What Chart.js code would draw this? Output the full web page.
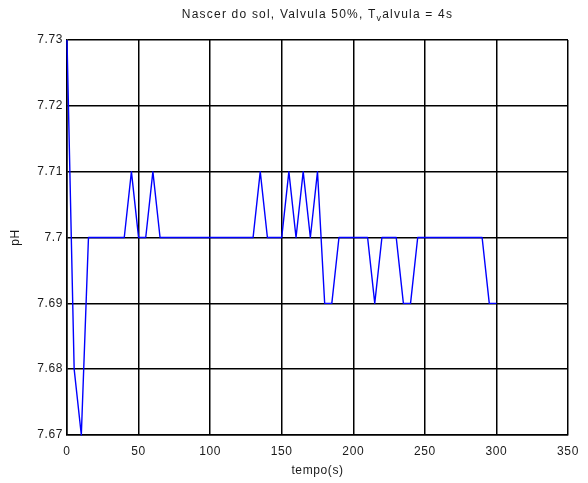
<!DOCTYPE html>
<html>
<head>
<meta charset="utf-8">
<script src="https://cdn.jsdelivr.net/npm/chart.js@4.4.1/dist/chart.umd.min.js"></script>
<style>
  html, body { margin: 0; padding: 0; background: #fff; }
  #wrap { width: 588px; height: 483px; position: relative; }
</style>
</head>
<body>
<div id="wrap"><canvas id="c" width="588" height="483"></canvas></div>
<script>
// ---- data ----
const tempo = [0,5,10,15,20,25,30,35,40,45,50,55,60,65,70,75,80,85,90,95,100,105,110,115,120,125,130,135,140,145,150,155,160,165,170,175,180,185,190,195,200,205,210,215,220,225,230,235,240,245,250,255,260,265,270,275,280,285,290,295,300];
const ph = [7.73,7.68,7.67,7.70,7.70,7.70,7.70,7.70,7.70,7.71,7.70,7.70,7.71,7.70,7.70,7.70,7.70,7.70,7.70,7.70,7.70,7.70,7.70,7.70,7.70,7.70,7.70,7.71,7.70,7.70,7.70,7.71,7.70,7.71,7.70,7.71,7.69,7.69,7.70,7.70,7.70,7.70,7.70,7.69,7.70,7.70,7.70,7.69,7.69,7.70,7.70,7.70,7.70,7.70,7.70,7.70,7.70,7.70,7.70,7.69,7.69];
const xTicks = [0,50,100,150,200,250,300,350];
const yTicks = [7.67,7.68,7.69,7.70,7.71,7.72,7.73];
const titleParts = ["Nascer do sol, Valvula 50%, T", "v", "alvula = 4s"];
const xLabel = "tempo(s)";
const yLabel = "pH";

const FONT = "'Liberation Sans', Arial, Helvetica, sans-serif";
const TXT = '#1a1a1a';

const points = tempo.map((t, i) => ({x: t, y: ph[i]}));

const titlePlugin = {
  id: 'subTitle',
  afterDraw(chart) {
    const ctx = chart.ctx;
    const ca = chart.chartArea;
    ctx.save();
    ctx.fillStyle = TXT;
    ctx.textBaseline = 'middle';
    ctx.textAlign = 'left';
    ctx.letterSpacing = '1.2px';
    const big = '12px ' + FONT, small = '9px ' + FONT;
    ctx.font = big;
    const w0 = ctx.measureText(titleParts[0]).width;
    const w2 = ctx.measureText(titleParts[2]).width;
    ctx.font = small;
    const w1 = ctx.measureText(titleParts[1]).width;
    const total = w0 + w1 + w2;
    let x = (ca.left + ca.right) / 2 - total / 2;
    const y = 15;
    ctx.font = big;
    ctx.fillText(titleParts[0], x, y); x += w0;
    ctx.font = small;
    ctx.fillText(titleParts[1], x, y + 4); x += w1;
    ctx.font = big;
    ctx.fillText(titleParts[2], x, y);
    ctx.restore();
  }
};

const spacingPlugin = {
  id: 'spacing',
  beforeDraw(chart) { chart.ctx.letterSpacing = '0.6px'; }
};

new Chart(document.getElementById('c'), {
  type: 'line',
  data: {
    datasets: [{
      data: points,
      borderColor: '#0000ff',
      borderWidth: 1.4,
      borderJoinStyle: 'round',
      pointRadius: 0,
      tension: 0,
      fill: false,
      clip: 3
    }]
  },
  options: {
    responsive: false,
    animation: false,
    devicePixelRatio: 1,
    layout: { padding: { top: 40, right: 20, left: 0, bottom: 0 } },
    plugins: { legend: { display: false }, title: { display: false }, tooltip: { enabled: false } },
    scales: {
      x: {
        type: 'linear',
        min: 0, max: 350,
        afterBuildTicks(s) { s.ticks = xTicks.map(v => ({value: v})); },
        afterFit(s) { s.height = 48; },
        ticks: { color: TXT, font: { size: 12, family: FONT }, padding: 9, maxRotation: 0,
                 callback: v => String(v) },
        grid: { color: '#000', lineWidth: 1.5, drawTicks: false },
        border: { color: '#000', width: 1.5 },
        title: { display: true, text: xLabel, color: TXT, font: { size: 12, family: FONT },
                 padding: { top: 0, bottom: 5 } }
      },
      y: {
        type: 'linear',
        min: 7.67, max: 7.73,
        afterBuildTicks(s) { s.ticks = yTicks.map(v => ({value: v})); },
        afterFit(s) { s.width = 67; },
        ticks: { color: TXT, font: { size: 12, family: FONT }, padding: 4,
                 callback: v => String(Number(v.toFixed(2))) },
        grid: { color: '#000', lineWidth: 1.5, drawTicks: false },
        border: { color: '#000', width: 1.5 },
        title: { display: true, text: yLabel, color: TXT, font: { size: 12, family: FONT },
                 padding: { top: 8, bottom: 0 } }
      }
    }
  },
  plugins: [spacingPlugin, titlePlugin]
});
</script>
</body>
</html>
